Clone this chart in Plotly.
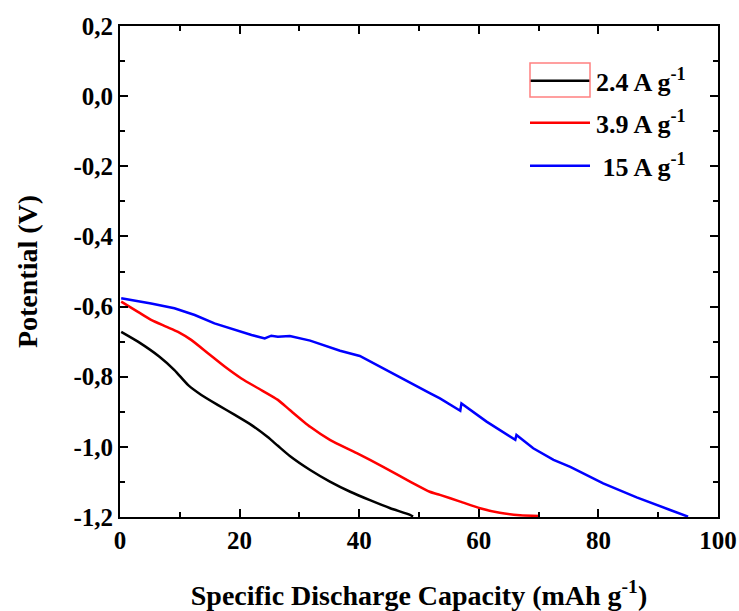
import plotly.graph_objects as go

# Data
x_24 = [0.2, 3.0, 6.6, 9.1, 11.4, 13.6, 16.4, 19.2, 22.0, 24.7, 26.4, 28.4, 31.8, 35.1, 38.5, 41.8, 45.2, 48.5, 49.0]
y_24 = [-0.672, -0.700, -0.743, -0.781, -0.824, -0.852, -0.881, -0.909, -0.938, -0.972, -0.997, -1.026, -1.066, -1.099, -1.128, -1.152, -1.175, -1.194, -1.199]

x_39 = [0.2, 3.0, 5.2, 7.7, 9.7, 11.9, 14.7, 17.5, 20.3, 23.1, 26.4, 28.4, 31.8, 35.1, 39.6, 44.0, 48.5, 51.8, 53.5, 56.9, 60.2, 63.5, 66.9, 70.2]
y_39 = [-0.586, -0.615, -0.638, -0.657, -0.672, -0.695, -0.733, -0.771, -0.805, -0.833, -0.866, -0.895, -0.943, -0.980, -1.018, -1.057, -1.099, -1.128, -1.137, -1.156, -1.175, -1.188, -1.195, -1.197]

x_15 = [0.2, 5.2, 9.1, 12.5, 15.8, 19.2, 22.0, 24.2, 25.3, 26.4, 28.4, 31.8, 35.1, 36.8, 40.1, 43.5, 47.4, 51.8, 53.5, 56.9, 57.1, 61.3, 66.1, 66.3, 69.1, 72.5, 75.3, 80.8, 86.4, 92.0, 95.0]
y_15 = [-0.576, -0.591, -0.605, -0.624, -0.648, -0.667, -0.681, -0.691, -0.683, -0.686, -0.684, -0.697, -0.716, -0.726, -0.741, -0.771, -0.807, -0.847, -0.862, -0.897, -0.876, -0.928, -0.980, -0.966, -1.004, -1.037, -1.057, -1.104, -1.144, -1.180, -1.199]

series_names = ["2.4 A g<sup>-1</sup>", "3.9 A g<sup>-1</sup>", " 15 A g<sup>-1</sup>"]
series_colors = ["#000000", "#ff0000", "#0000ff"]
series_shapes = ["spline", "spline", "linear"]

y_ticks = [0.2, 0.0, -0.2, -0.4, -0.6, -0.8, -1.0, -1.2]
y_ticktext = ["0,2", "0,0", "-0,2", "-0,4", "-0,6", "-0,8", "-1,0", "-1,2"]
x_ticks = [0, 20, 40, 60, 80, 100]

FONT = "Liberation Serif"

fig = go.Figure()
for xs, ys, name, col, shp in zip([x_24, x_39, x_15], [y_24, y_39, y_15],
                                  series_names, series_colors, series_shapes):
    line = dict(color=col, width=2.5, shape=shp)
    if shp == "spline":
        line["smoothing"] = 0.6
    fig.add_trace(go.Scatter(x=xs, y=ys, mode="lines", name=name, showlegend=False,
                             line=line))

axis_common = dict(
    showgrid=False, zeroline=False, showline=True, linecolor="black", linewidth=2,
    mirror="ticks", ticks="inside", ticklen=8, tickwidth=2, tickcolor="black",
    tickfont=dict(family=FONT, size=25, color="black"), automargin=False,
)

fig.update_xaxes(range=[0, 100], tickvals=x_ticks,
                 ticktext=["<b>%d</b>" % v for v in x_ticks],
                 minor=dict(ticks="inside", ticklen=5, tickwidth=2, dtick=10, tickcolor="black"),
                 title=dict(text="<b>Specific Discharge Capacity (mAh g<sup>-1</sup>)</b>",
                            font=dict(family=FONT, size=28, color="black"), standoff=34),
                 **axis_common)
fig.update_yaxes(range=[-1.2, 0.2], tickvals=y_ticks,
                 ticktext=["<b>%s</b>" % t for t in y_ticktext],
                 minor=dict(ticks="inside", ticklen=5, tickwidth=2, dtick=0.1, tickcolor="black"),
                 title=dict(text="<b>Potential (V)</b>",
                            font=dict(family=FONT, size=28, color="black"), standoff=28),
                 **axis_common)

fig.update_layout(
    width=739, height=611,
    margin=dict(l=120, r=21, t=26, b=94),
    plot_bgcolor="white", paper_bgcolor="white",
    font=dict(family=FONT, color="black"),
    showlegend=False,
)

# Manual legend (long sample lines as in the reference)
PW, PH, L, B = 598.0, 491.0, 120.0, 517.0
legend_y = [80.7, 122.7, 165.7]
for name, col, py in zip(series_names, series_colors, legend_y):
    yp = (B - py) / PH
    fig.add_shape(type="line", xref="paper", yref="paper",
                  x0=(530 - L) / PW, x1=(590 - L) / PW, y0=yp, y1=yp,
                  line=dict(color=col, width=2.5))
    fig.add_annotation(xref="paper", yref="paper", x=(594 - L) / PW, y=yp,
                       xanchor="left", yanchor="middle", showarrow=False,
                       text="<b>%s</b>" % name,
                       font=dict(family=FONT, size=26, color="black"))

fig.add_shape(type="rect", xref="paper", yref="paper",
              x0=(530 - L) / PW, x1=(590 - L) / PW,
              y0=(B - 97) / PH, y1=(B - 63) / PH,
              line=dict(color="#ff8080", width=1.5))

fig.write_html("out.html")
